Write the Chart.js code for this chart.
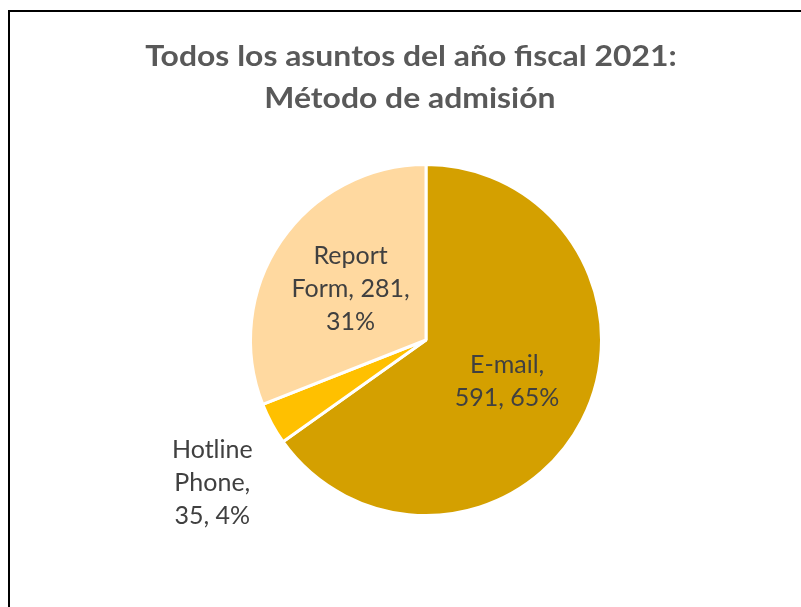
<!DOCTYPE html>
<html>
<head>
<meta charset="utf-8">
<script src="https://cdn.jsdelivr.net/npm/chart.js@4.4.1/dist/chart.umd.min.js"></script>
<style>
    html, body { margin: 0; padding: 0; background: #fff; overflow: hidden; }
    #wrap { position: relative; width: 801px; height: 607px; }
    #frame { position: absolute; left: 8px; top: 10px; width: 900px; height: 700px;
             border-left: 2px solid #000; border-top: 2px solid #000; }
    canvas { position: absolute; left: 0; top: 0; }
</style>
</head>
<body>
<div id="wrap">
    <div id="frame"></div>
    <canvas id="pieChart" width="801" height="607"></canvas>
</div>
<script>
// data
const categories = ["E-mail", "Hotline Phone", "Report Form"];
const counts = [591, 35, 281];
const percents = ["65%", "4%", "31%"];
const sliceColors = ["#D4A000", "#FFC000", "#FFD9A0"];
const titleLines = ["Todos los asuntos del año fiscal 2021:", "Método de admisión"];

// label lines per slice (Excel style wrapping)
const labelLines = [
    ["E-mail,", counts[0] + ", " + percents[0]],
    ["Hotline", "Phone,", counts[1] + ", " + percents[1]],
    ["Report", "Form, " + counts[2] + ",", percents[2]]
];
const outsideLabel = [false, true, false];

const titlePlugin = {
    id: "titleText",
    afterDraw(chart) {
        const ctx = chart.ctx;
        ctx.save();
        ctx.fillStyle = "#595959";
        ctx.font = "bold 29px Lato";
        ctx.textAlign = "center";
        ctx.textBaseline = "alphabetic";
        // reference title is a bit wider than Lato, stretch it slightly
        ctx.translate(411, 0);
        ctx.scale(1.1, 1);
        ctx.fillText(titleLines[0], 0, 66);
        ctx.fillText(titleLines[1], -1, 108);
        ctx.restore();
    }
};

const labelPlugin = {
    id: "sliceLabels",
    afterDatasetsDraw(chart) {
        const ctx = chart.ctx;
        const meta = chart.getDatasetMeta(0);
        ctx.save();
        ctx.fillStyle = "#404040";
        ctx.font = "25px Lato";
        ctx.textAlign = "center";
        ctx.textBaseline = "middle";
        meta.data.forEach((arc, i) => {
            const p = arc.getProps(["x", "y", "startAngle", "endAngle", "outerRadius"], true);
            const mid = (p.startAngle + p.endAngle) / 2;
            let dist = p.outerRadius * 0.52;
            let dx = 0, dy = 0;
            if (outsideLabel[i]) {
                dist = p.outerRadius * 1.45;
                dx = 10; dy = 22;
            }
            const cx = p.x + Math.cos(mid) * dist + dx;
            const cy = p.y + Math.sin(mid) * dist + dy;
            const lh = 33;
            const lines = labelLines[i];
            lines.forEach((t, k) => {
                ctx.fillText(t, cx, cy + (k - (lines.length - 1) / 2) * lh);
            });
        });
        ctx.restore();
    }
};

new Chart(document.getElementById("pieChart"), {
    type: "pie",
    data: {
        labels: categories,
        datasets: [{
            data: counts,
            backgroundColor: sliceColors,
            borderColor: "#ffffff",
            borderWidth: 3
        }]
    },
    options: {
        responsive: false,
        animation: false,
        layout: { padding: { top: 163, bottom: 90, left: 51, right: 0 } },
        plugins: {
            legend: { display: false },
            title: { display: false },
            tooltip: { enabled: false }
        }
    },
    plugins: [titlePlugin, labelPlugin]
});
</script>
</body>
</html>
